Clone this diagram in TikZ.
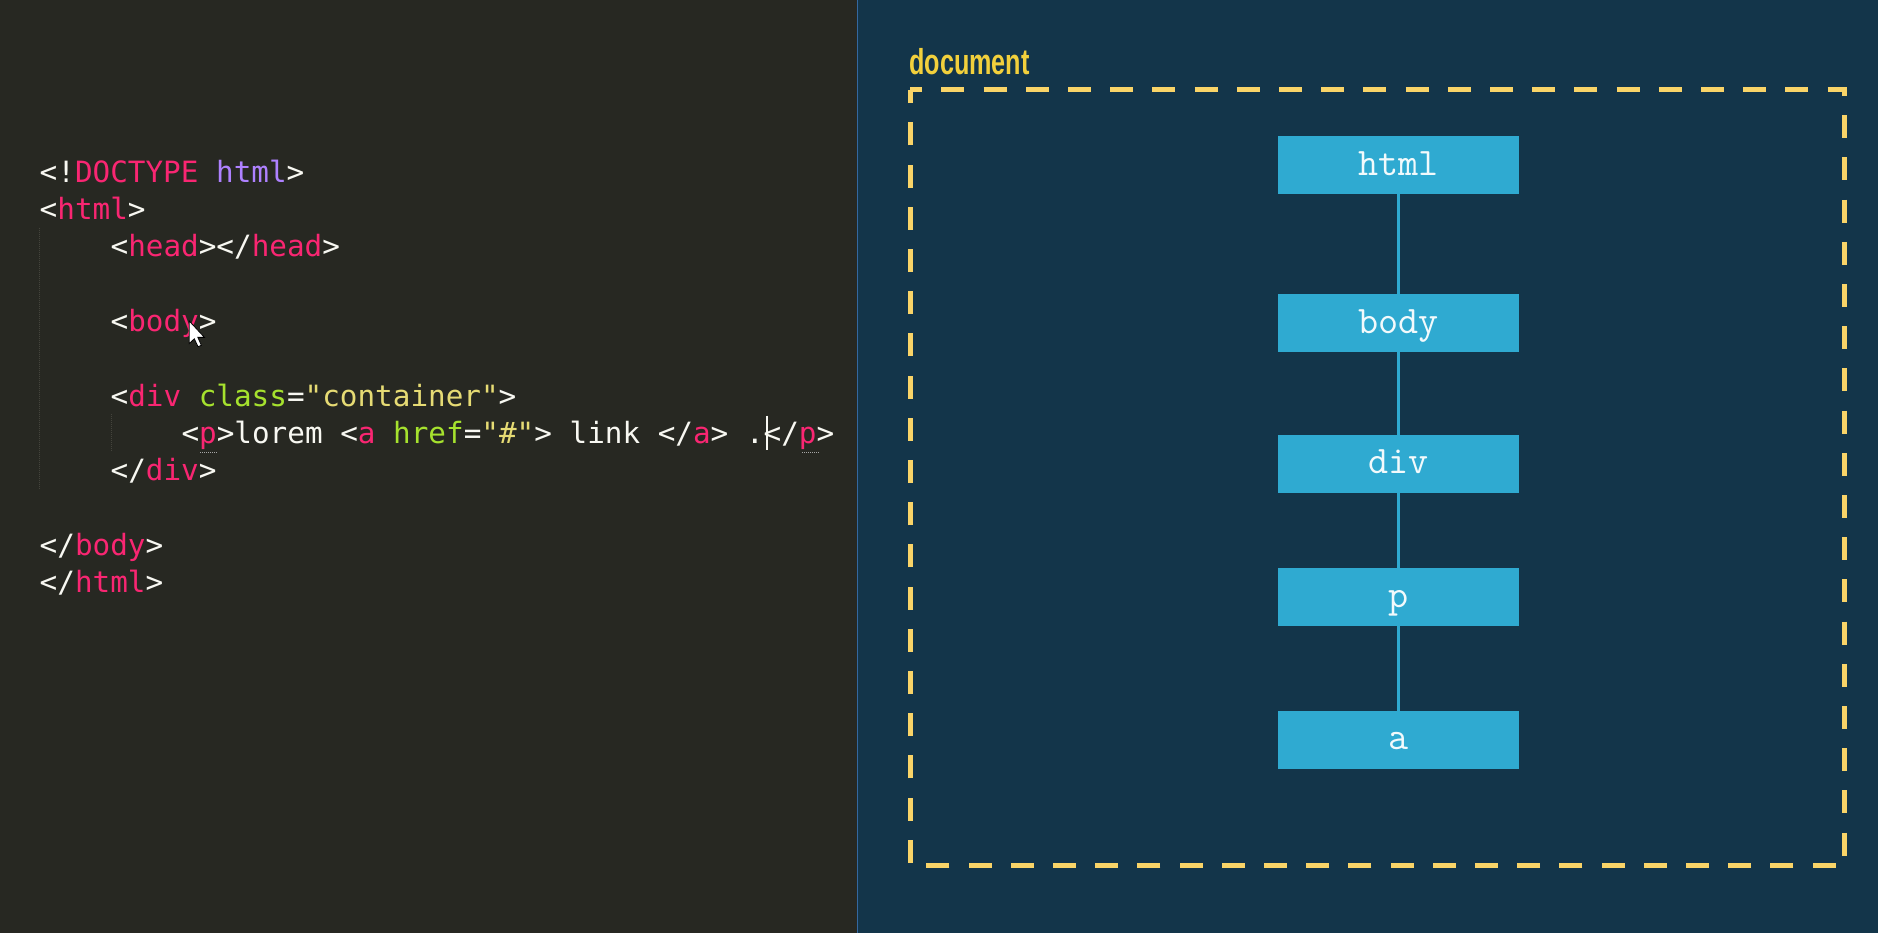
\documentclass[tikz,border=0pt]{standalone}
\usepackage{fontspec}
\usepackage{graphicx}
\newfontfamily\codefont{DejaVu Sans Mono}
\newfontfamily\labelfont{Liberation Sans}
\definecolor{leftbg}{HTML}{272822}
\definecolor{rightbg}{HTML}{13354A}
\definecolor{sepline}{HTML}{3468A0}
\definecolor{cwhite}{HTML}{F8F8F2}
\definecolor{cpink}{HTML}{F92672}
\definecolor{cpurple}{HTML}{AE81FF}
\definecolor{cgreen}{HTML}{A6E22E}
\definecolor{cyellow}{HTML}{E6DB74}
\definecolor{guide}{HTML}{44443C}
\definecolor{boxblue}{HTML}{2FAAD1}
\definecolor{boxtext}{HTML}{F2FAFC}
\definecolor{frameyellow}{HTML}{F9D468}
\definecolor{labelyellow}{HTML}{F2D03C}
\newcommand\mkW[1]{\textcolor{cwhite}{#1}}
\newcommand\mkP[1]{\textcolor{cpink}{#1}}
\newcommand\mkV[1]{\textcolor{cpurple}{#1}}
\newcommand\mkG[1]{\textcolor{cgreen}{#1}}
\newcommand\mkY[1]{\textcolor{cyellow}{#1}}
\tikzset{
  codeline/.style={anchor=base west, inner sep=0pt, text=cwhite,
    font=\codefont\fontsize{29.3}{31}\selectfont},
  treebox/.style={fill=boxblue, draw=none, minimum width=240.7pt, minimum height=57.5pt,
    inner sep=0pt, text height=22pt, text depth=2pt, text=boxtext,
    font=\ttfamily\fontsize{39}{42}\selectfont},
  treeedge/.style={draw=boxblue, line width=2.6pt},
  docframe/.style={draw=frameyellow, line width=5pt, dash pattern=on 23pt off 19.2pt, dash phase=11pt},
  indentguide/.style={draw=guide, line width=1pt, dash pattern=on 1pt off 1pt},
}
\begin{document}
\begin{tikzpicture}[x=1.1977pt, y=-1.1977pt]
\useasboundingbox (0,0) rectangle (1568,779);
% panels
\fill[leftbg] (0,0) rectangle (716,779);
\fill[rightbg] (716,0) rectangle (1568,779);
\draw[sepline, line width=1.6pt] (716,0) -- (716,779);
% indent guides
\coordinate (g1a) at (33,190); \coordinate (g1b) at (33,408);
\coordinate (g2a) at (93,346); \coordinate (g2b) at (93,377);
\draw[indentguide] (g1a) -- (g1b);
\draw[indentguide] (g2a) -- (g2b);
% code
\node[codeline] (l0) at (33,152.0) {\mkW{<!}\mkP{DOCTYPE} \mkV{html}\mkW{>}};
\node[codeline] (l1) at (33,183.2) {\mkW{<}\mkP{html}\mkW{>}};
\node[codeline] (l2) at (92.2,214.4) {\mkW{<}\mkP{head}\mkW{></}\mkP{head}\mkW{>}};
\node[codeline] (l4) at (92.2,276.7) {\mkW{<}\mkP{body}\mkW{>}};
\node[codeline] (l6) at (92.2,339.1) {\mkW{<}\mkP{div} \mkG{class}\mkW{=}\mkY{"container"}\mkW{>}};
\node[codeline] (l7) at (151.4,370.3) {\mkW{<}\mkP{p}\mkW{>lorem <}\mkP{a} \mkG{href}\mkW{=}\mkY{"\#"}\mkW{> link </}\mkP{a}\mkW{> .</}\mkP{p}\mkW{>}};
\node[codeline] (l8) at (92.2,401.4) {\mkW{</}\mkP{div}\mkW{>}};
\node[codeline] (l10) at (33,463.8) {\mkW{</}\mkP{body}\mkW{>}};
\node[codeline] (l11) at (33,495.0) {\mkW{</}\mkP{html}\mkW{>}};
% matching-bracket underlines
\coordinate (u1a) at (167,377.5); \coordinate (u1b) at (181,377.5);
\coordinate (u2a) at (670,377.5); \coordinate (u2b) at (684,377.5);
\draw[draw=gray!70, line width=1pt, dash pattern=on 1pt off 1pt] (u1a) -- (u1b);
\draw[draw=gray!70, line width=1pt, dash pattern=on 1pt off 1pt] (u2a) -- (u2b);
% text caret
\coordinate (ca) at (640.5,347); \coordinate (cb) at (640.5,376);
\draw[cwhite, line width=1.5pt] (ca) -- (cb);
% mouse pointer
\begin{scope}[shift={(158,268)}, scale=1.18]
\filldraw[fill=white, draw=black, line width=0.8pt, line join=miter]
  (0,0) -- (0,16) -- (3.6,12.6) -- (6.2,18.2) -- (8.6,17.2) -- (6.1,11.6) -- (10.8,11.6) -- cycle;
\end{scope}
% document frame
\node[anchor=base west, inner sep=0pt, text=labelyellow] (doclabel) at (759,62)
  {\scalebox{0.7}[1]{\labelfont\bfseries\fontsize{36}{40}\selectfont document}};
\draw[docframe] (760,75) -- (1540,75) -- (1540,723) -- (760,723) -- cycle;
% tree
\node[treebox] (nhtml) at (1167.5,137.8) {html};
\node[treebox] (nbody) at (1167.5,269.8) {body};
\node[treebox] (ndiv) at (1167.5,387.2) {div};
\node[treebox] (np) at (1167.5,498.5) {p};
\node[treebox] (na) at (1167.5,617.7) {a};
\draw[treeedge] (nhtml) -- (nbody);
\draw[treeedge] (nbody) -- (ndiv);
\draw[treeedge] (ndiv) -- (np);
\draw[treeedge] (np) -- (na);
\end{tikzpicture}
\end{document}
